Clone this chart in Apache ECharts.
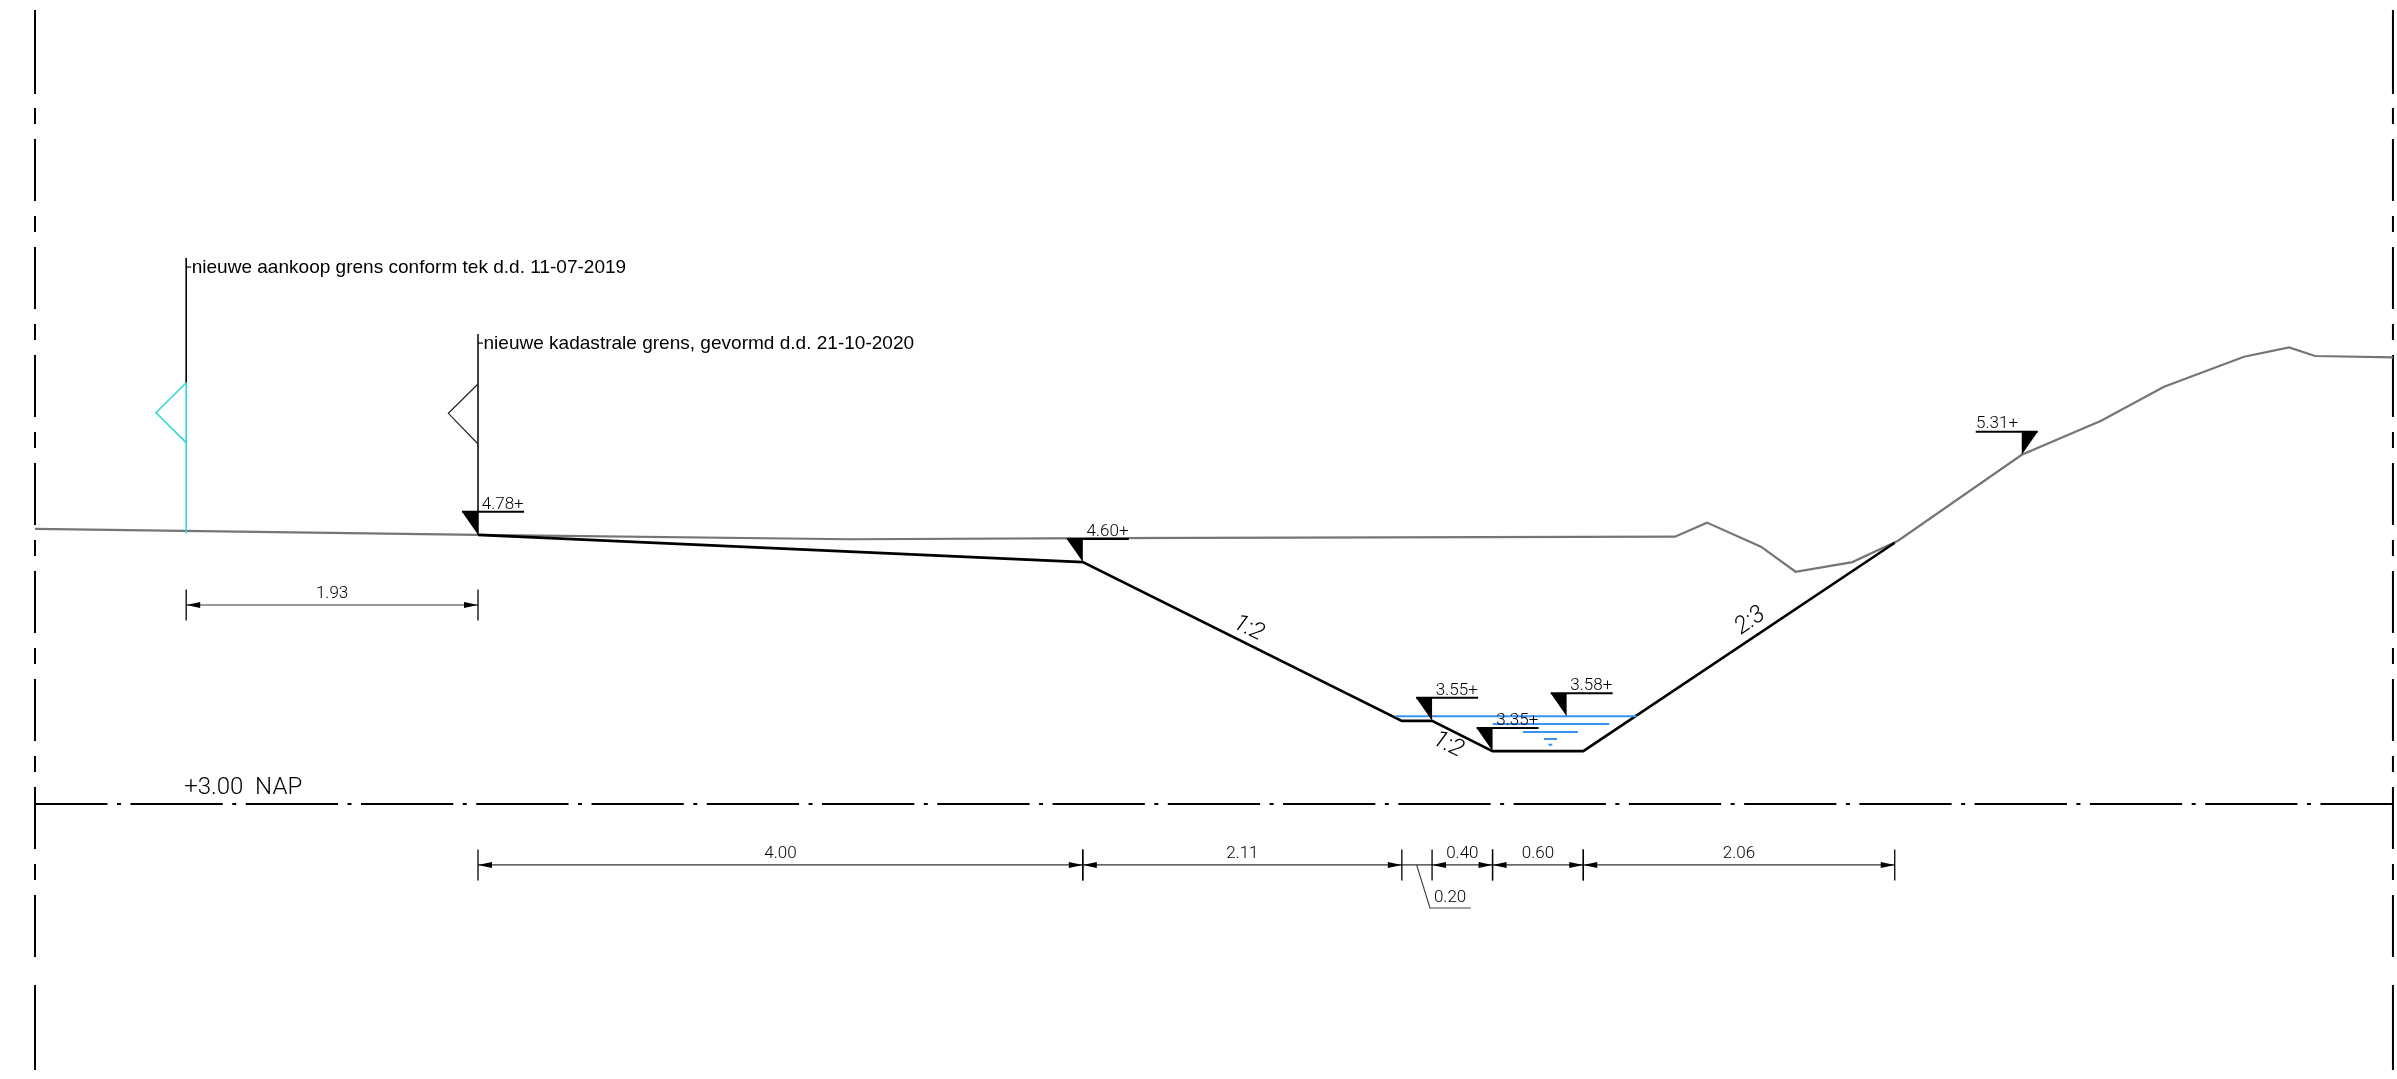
<!DOCTYPE html>
<html><head><meta charset="utf-8">
<style>html,body{margin:0;padding:0;background:#fff}#c{width:2397px;height:1079px}</style>
<script src="https://cdn.jsdelivr.net/npm/echarts@6/dist/echarts.min.js"></script>
</head><body><div id="c"></div>
<script>
// Profile in metres (x from the cadastral boundary) and levels in m NAP
const terrainX=[-2.93,0,2.46,4.114,7.917,8.128,8.485,8.714,9.09,9.392,10.21,10.735,11.151,11.68,11.978,12.15,12.665];
const terrainY=[4.819,4.78,4.751,4.759,4.768,4.861,4.702,4.536,4.60,4.741,5.31,5.535,5.76,5.958,6.02,5.963,5.954];
const designX=[0,4,6.11,6.31,6.71,7.31,9.37];
const designY=[4.78,4.60,3.55,3.55,3.35,3.35,4.728];
const levelText=["4.78+","4.60+","3.55+","3.58+","3.35+","5.31+"];
const levelX=[0,4,6.31,7.2,6.71,10.21];
const levelY=[4.78,4.60,3.55,3.58,3.35,5.31];
const dimStarts=[0,4,6.31,6.71,7.31];
const dimEnds=[4,6.11,6.71,7.31,9.37];
const dimText=["4.00","2.11","0.40","0.60","2.06"];
const waterLines=[[6.065,7.663,3.58],[6.711,7.482,3.529],[6.911,7.275,3.476],[7.05,7.136,3.43],[7.08,7.105,3.392]];
const boundaryAX=-1.93, boundaryBX=0;
const boundaryTopA=6.611, boundaryTopB=6.108;
const flagA=[[-1.93,5.786],[-2.13,5.588],[-1.93,5.39]];
const flagB=[[0,5.778],[-0.196,5.584],[0,5.381]];
const cyanBase=[[-1.93,5.786],[-1.93,4.79]];
const blackB=[[0,6.108],[0,4.78]];
const blackA=[[-1.93,6.611],[-1.93,5.786]];
const boundaryTexts=["nieuwe aankoop grens conform tek d.d. 11-07-2019","nieuwe kadastrale grens, gevormd d.d. 21-10-2020"];
const dimYBottom=2.597, dimYTop=4.316;
const topDim=[-1.93,0,"1.93"];
const napLevel=3, napText="+3.00  NAP";
const borderXs=[-2.93,12.665];
const borderSolid=[[8.2513,7.6958],[1.8029,1.2407]];
const borderDashed=[7.6032,1.8955];
const smallDim=[6.11,6.31,"0.20"];
const leaderX=[6.208,6.296,6.565], leaderY=[2.597,2.312,2.312];
const slopeText=[["1:2",5.095,4.16],["1:2",6.415,3.39],["2:3",8.415,4.21]];

const BLACK='#000',GREY='#757575',DIM='#333',CYAN='#2fd6d6',BLUE='#3b93f0';
const LABEL_FONT='300 17px Roboto';
const zip=(a,b)=>a.map((v,i)=>[v,b[i]]);
const S=[];
function poly(pts,color,w,dash,off){S.push({type:'line',data:pts,showSymbol:false,symbol:'none',silent:true,clip:false,animation:false,z:3,
  lineStyle:{color,width:w,type:dash||'solid',dashOffset:off||0,cap:'butt',join:'miter'}});}

// frame
borderXs.forEach(x=>{
  borderSolid.forEach(s=>poly(s.map(y=>[x,y]),BLACK,2));
  poly(borderDashed.map(y=>[x,y]),BLACK,2,[16,15,62,15]);
});
poly([[borderXs[0],napLevel],[borderXs[1],napLevel]],BLACK,2.2,[92.26,9.5,4,9.5],19.76);
// terrain and design
poly(zip(terrainX,terrainY),GREY,2.2);
poly(zip(designX,designY),BLACK,2.6);
// boundaries
poly(blackA,BLACK,1.6); poly(cyanBase,CYAN,1.6); poly(flagA,CYAN,1.5);
poly(blackB,BLACK,1.5); poly(flagB,'#222',1.2);
// water
waterLines.forEach(w=>poly([[w[0],w[2]],[w[1],w[2]]],BLUE,2));
// dimension lines
poly([[topDim[0],dimYTop],[topDim[1],dimYTop]],DIM,1.2);
poly([[dimStarts[0],dimYBottom],[dimEnds[4],dimYBottom]],DIM,1.2);
poly(zip(leaderX,leaderY),'#444',1.2);

// level markers
S.push({type:'custom',coordinateSystem:'cartesian2d',silent:true,animation:false,clip:false,z:5,
  data:levelText.map((t,i)=>[levelX[i],levelY[i]]),
  encode:{x:0,y:1},
  renderItem:(p,api)=>{
    const c=api.coord([api.value(0),api.value(1)]),i=p.dataIndex,d=i===5?-1:1;
    const top=c[1]-23;
    return {type:'group',children:[
      {type:'polygon',shape:{points:[[c[0],c[1]],[c[0]-16*d,top],[c[0],top]]},style:{fill:'#000'}},
      {type:'line',shape:{x1:c[0]-16*d,y1:top,x2:c[0]+46*d,y2:top},style:{stroke:'#000',lineWidth:2}},
      {type:'text',x:c[0]+24.7*d,y:c[1]-30.5,style:{text:levelText[i],fill:'#000',font:LABEL_FONT,align:'center',verticalAlign:'middle'}}
    ]};
  }});

// dimension ticks, arrows, labels
function dimSeries(spans,y){
  S.push({type:'custom',coordinateSystem:'cartesian2d',silent:true,animation:false,clip:false,z:4,
    data:spans.map(s=>[s[0],s[1],y]),encode:{x:[0,1],y:2},
    renderItem:(p,api)=>{
      const a=api.coord([api.value(0),api.value(2)]),b=api.coord([api.value(1),api.value(2)]);
      const yy=a[1],L=14,H=3;
      const tick=x=>({type:'line',shape:{x1:x,y1:yy-15.5,x2:x,y2:yy+15.5},style:{stroke:'#000',lineWidth:1.3}});
      return {type:'group',children:[tick(a[0]),tick(b[0]),
        {type:'polygon',shape:{points:[[a[0],yy],[a[0]+L,yy-H],[a[0]+L,yy+H]]},style:{fill:'#000'}},
        {type:'polygon',shape:{points:[[b[0],yy],[b[0]-L,yy-H],[b[0]-L,yy+H]]},style:{fill:'#000'}},
        {type:'text',x:(a[0]+b[0])/2,y:yy-11,style:{text:spans[p.dataIndex][2],fill:'#000',font:LABEL_FONT,align:'center',verticalAlign:'middle'}}
      ]};
    }});
}
dimSeries(dimStarts.map((s,i)=>[s,dimEnds[i],dimText[i]]),dimYBottom);
dimSeries([topDim],dimYTop);

// free texts
S.push({type:'custom',coordinateSystem:'cartesian2d',silent:true,animation:false,clip:false,z:5,
  data:[[0,3]],encode:{x:0,y:1},
  renderItem:(p,api)=>{
    const ch=[];
    [[boundaryAX,boundaryTopA,boundaryTexts[0]],[boundaryBX,boundaryTopB,boundaryTexts[1]]].forEach(b=>{
      const c=api.coord([b[0],b[1]]);
      ch.push({type:'line',shape:{x1:c[0],y1:c[1]+9,x2:c[0]+5,y2:c[1]+9},style:{stroke:'#000',lineWidth:1.2}});
      ch.push({type:'text',x:c[0]+5.5,y:c[1]+9.5,style:{text:b[2],fill:'#000',font:'19.05px "Liberation Sans"',align:'left',verticalAlign:'middle'}});
    });
    const n=api.coord([-1.93,napLevel]);
    ch.push({type:'text',x:n[0]-2,y:n[1]-15.5,style:{text:napText,fill:'#000',font:'300 24px Roboto',align:'left',verticalAlign:'middle'}});
    const l=api.coord([smallDim[1],leaderY[1]]);
    ch.push({type:'text',x:l[0]+18,y:l[1]-10.5,style:{text:smallDim[2],fill:'#000',font:LABEL_FONT,align:'center',verticalAlign:'middle'}});
    const rots=[-0.46,-0.46,0.6];
    slopeText.forEach((s,i)=>{
      const c=api.coord([s[1],s[2]]);
      ch.push({type:'text',x:c[0],y:c[1],rotation:rots[i],style:{text:s[0],fill:'#000',font:'italic 300 24px Roboto',align:'center',verticalAlign:'middle'}});
    });
    return {type:'group',children:ch};
  }});

const chart=echarts.init(document.getElementById('c'),null,{renderer:'canvas'});
chart.setOption({animation:false,backgroundColor:'#fff',
  grid:{left:0,right:0,top:0,bottom:0,containLabel:false},
  xAxis:{type:'value',min:-3.1614,max:12.6918,show:false,scale:true},
  yAxis:{type:'value',min:1.1812,max:8.3175,show:false,scale:true},
  tooltip:{show:false},legend:{show:false},
  series:S});
</script></body></html>
